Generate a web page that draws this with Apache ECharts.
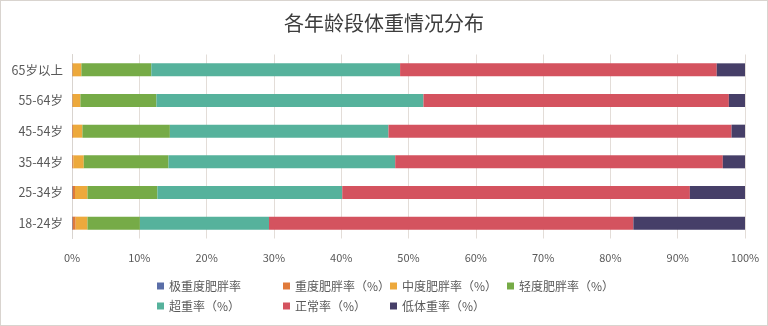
<!DOCTYPE html>
<html><head><meta charset="utf-8">
<script src="https://cdn.jsdelivr.net/npm/echarts@6/dist/echarts.min.js"></script>
<style>html,body{margin:0;padding:0;background:#fff}#c{width:766px;height:324px;border:1px solid #d9d4cf}</style>
</head><body><div id="c"></div>
<script>
const categories = ['18-24岁','25-34岁','35-44岁','45-54岁','55-64岁','65岁以上'];
const seriesNames = ['极重度肥胖率','重度肥胖率（%）','中度肥胖率（%）','轻度肥胖率（%）','超重率（%）','正常率（%）','低体重率（%）'];
const extremeObese = [0.1, 0.1, 0.05, 0.05, 0.05, 0.05];
const severeObese  = [0.45, 0.35, 0.15, 0.1, 0.05, 0.05];
const moderateObese= [1.75, 1.85, 1.55, 1.4, 1.15, 1.3];
const mildObese    = [7.8, 10.4, 12.6, 13.0, 11.3, 10.4];
const overweight   = [19.2, 27.5, 33.7, 32.5, 39.7, 37.0];
const normal       = [54.2, 51.7, 48.7, 51.0, 45.4, 47.1];
const underweight  = [16.6, 8.2, 3.3, 2.0, 2.4, 4.2];
const xTicks = ['0%','10%','20%','30%','40%','50%','60%','70%','80%','90%','100%'];
const colors = ['#5a6ea8','#e07a3a','#eda93c','#76ab47','#56b29c','#d4535f','#463f68'];

const all = [extremeObese, severeObese, moderateObese, mildObese, overweight, normal, underweight];
const totals = categories.map((_, i) => all.reduce((s, a) => s + a[i], 0));
const chart = echarts.init(document.getElementById('c'));
const font = '"Noto Sans CJK SC", sans-serif';

// legend layout (Excel-like columns)
const colX = [156, 282, 389, 506];
const rowY = [277, 297];
const legends = seriesNames.map((name, k) => ({
  left: colX[k % 4], top: rowY[Math.floor(k / 4)], padding: 0,
  itemWidth: 7, itemHeight: 7, icon: 'rect',
  textStyle: { fontFamily: font, fontSize: 12, color: '#595959', lineHeight: 16 },
  data: [name]
}));

chart.setOption({
  animation: false,
  title: { text: '各年龄段体重情况分布', left: 'center', top: 7,
    textStyle: { fontFamily: font, fontSize: 20, fontWeight: 'normal', color: '#3d3d3d' } },
  legend: legends,
  grid: { left: 71, right: 22, top: 53.5, bottom: 86.5, containLabel: false },
  xAxis: {
    type: 'value', min: 0, max: 100, interval: 10,
    axisLine: { show: false }, axisTick: { show: false },
    splitLine: { show: true, lineStyle: { color: '#e3ddd8', width: 1 } },
    axisLabel: { margin: 14, fontFamily: font, fontSize: 11, color: '#595959',
      formatter: (v) => xTicks[Math.round(v / 10)] }
  },
  yAxis: {
    type: 'category', data: categories,
    axisLine: { show: true, lineStyle: { color: '#d9d4cf' } },
    axisTick: { show: false },
    axisLabel: { margin: 9, fontFamily: font, fontSize: 12.5, color: '#595959' }
  },
  series: all.map((arr, k) => ({
    name: seriesNames[k], type: 'bar', stack: 'total', barWidth: 13,
    itemStyle: { color: colors[k] },
    data: arr.map((v, i) => v / totals[i] * 100)
  }))
});
</script></body></html>
